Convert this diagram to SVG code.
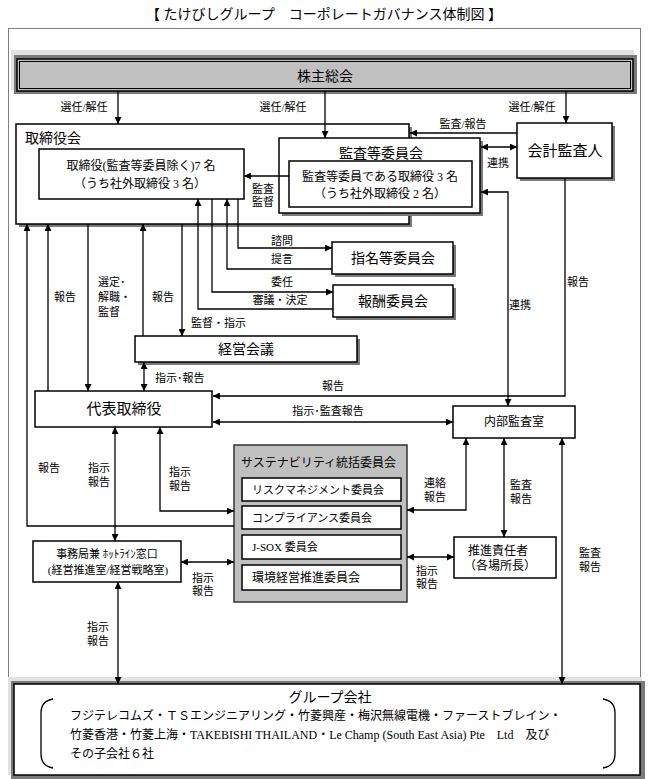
<svg xmlns="http://www.w3.org/2000/svg" width="648" height="779" viewBox="0 0 648 779">
<defs>
<marker id="a" viewBox="0 0 10 10" refX="10" refY="5" markerWidth="7" markerHeight="7" markerUnits="userSpaceOnUse" orient="auto-start-reverse"><path d="M0,0 L10,5 L0,10 z" fill="#000"/></marker>
<style>
text{font-family:"Liberation Serif","Noto Sans CJK JP",serif;fill:#000;dominant-baseline:central}
.c{text-anchor:middle}
.s{text-anchor:start}
.f11{font-size:11px}.f12{font-size:12px}.f14{font-size:14px}.f15{font-size:15px}
.box{fill:#fff;stroke:#000;stroke-width:1.5}
.sh{fill:#7a7a7a}
.ln{fill:none;stroke:#000;stroke-width:1.3}
.e{marker-end:url(#a)}
.b{marker-start:url(#a);marker-end:url(#a)}
</style>
</defs>
<rect width="648" height="779" fill="#fff"/>
<text class="c f14" x="324" y="14">【 たけびしグループ　コーポレートガバナンス体制図 】</text>
<rect x="8.5" y="28.5" width="632" height="660" fill="none" stroke="#000" stroke-width="1" stroke-dasharray="1 1"/>

<g id="kabunushi">
<rect x="11" y="50" width="623" height="40" fill="#e2e2e2"/>
<rect x="14" y="55" width="623" height="39" fill="#7a7a7a"/>
<rect x="17" y="59" width="616" height="32" fill="#c0c0c0" stroke="#000" stroke-width="1.5"/>
<rect x="19.5" y="61.5" width="611" height="27" fill="none" stroke="#000" stroke-width="1"/>
<text class="c f14" x="325" y="76">株主総会</text>
</g>

<g id="torishimariyakukai">
<rect class="sh" x="19" y="127" width="393" height="100"/>
<rect class="box" x="16" y="124" width="393" height="100"/>
<text class="s f14" x="25" y="138">取締役会</text>
</g>
<g id="torishimariyaku">
<rect class="box" x="39" y="149" width="205" height="50"/>
<text class="c f12" x="141" y="166">取締役(監査等委員除く)7 名</text>
<text class="c f12" x="140" y="184">（うち社外取締役 3 名）</text>
</g>
<g id="kansatou">
<rect class="sh" x="282" y="141" width="201" height="75"/>
<rect class="box" x="279" y="138" width="201" height="75"/>
<text class="c f14" x="381" y="153">監査等委員会</text>
<rect class="box" x="289" y="161" width="183" height="46"/>
<text class="c f12" x="380" y="177">監査等委員である取締役 3 名</text>
<text class="c f12" x="380" y="194">（うち社外取締役 2 名）</text>
</g>
<g id="kaikei">
<rect class="sh" x="520" y="126" width="95" height="55"/>
<rect class="box" x="517" y="123" width="95" height="55"/>
<text class="c f15" x="565" y="151">会計監査人</text>
</g>
<g id="shimei">
<rect class="sh" x="335" y="245" width="121" height="32"/>
<rect class="box" x="332" y="242" width="121" height="32"/>
<text class="c f14" x="393" y="258">指名等委員会</text>
</g>
<g id="houshu">
<rect class="sh" x="336" y="288" width="120" height="32"/>
<rect class="box" x="333" y="285" width="120" height="32"/>
<text class="c f14" x="393" y="301">報酬委員会</text>
</g>
<g id="keiei">
<rect class="sh" x="138" y="339" width="222" height="26"/>
<rect class="box" x="135" y="336" width="222" height="26"/>
<text class="c f14" x="246" y="349">経営会議</text>
</g>
<g id="daihyo">
<rect class="box" x="35" y="391" width="177" height="36"/>
<text class="c f15" x="124" y="409">代表取締役</text>
</g>
<g id="naibu">
<rect class="box" x="453" y="406" width="122" height="32"/>
<text class="c f12" x="514" y="422">内部監査室</text>
</g>
<g id="sustain">
<rect x="234" y="445" width="173" height="157" fill="#c0c0c0" stroke="#333" stroke-width="1.5"/>
<text class="s f12" x="241" y="463">サステナビリティ統括委員会</text>
<rect class="box" x="242" y="478" width="159" height="23"/>
<text class="s f11" x="252" y="490">リスクマネジメント委員会</text>
<rect class="box" x="242" y="506" width="159" height="23"/>
<text class="s f11" x="252" y="518">コンプライアンス委員会</text>
<rect class="box" x="242" y="535" width="159" height="24"/>
<text class="s f11" x="252" y="547">J-SOX 委員会</text>
<rect class="box" x="242" y="565" width="159" height="25"/>
<text class="s f12" x="252" y="578">環境経営推進委員会</text>
</g>
<g id="jimukyoku">
<rect class="box" x="33" y="541" width="148" height="41"/>
<text class="c f11" x="107" y="554">事務局兼 ﾎｯﾄﾗｲﾝ窓口</text>
<text class="c f11" x="108" y="570">(経営推進室/経営戦略室)</text>
</g>
<g id="suishin">
<rect class="box" x="454" y="537" width="102" height="41"/>
<text class="c f12" x="498" y="551">推進責任者</text>
<text class="c f12" x="500" y="566">（各場所長）</text>
</g>
<g id="group">
<rect x="8" y="677" width="634" height="98" fill="#e2e2e2"/>
<rect x="11" y="681" width="634" height="98" fill="#7a7a7a"/>
<rect x="14" y="684" width="626" height="91" fill="#fff" stroke="#000" stroke-width="1.5"/>
<path d="M53 699 Q41 701 41 713 L41 754 Q41 766 53 768" fill="none" stroke="#000" stroke-width="1.3"/>
<path d="M603 699 Q615 701 615 713 L615 754 Q615 766 603 768" fill="none" stroke="#000" stroke-width="1.3"/>
<text class="c f14" x="330" y="697">グループ会社</text>
<text class="s f12" x="70" y="716">フジテレコムズ・ＴＳエンジニアリング・竹菱興産・梅沢無線電機・ファーストブレイン・</text>
<text class="s f12" x="70" y="735">竹菱香港・竹菱上海・TAKEBISHI THAILAND・Le Champ (South East Asia) Pte　Ltd　及び</text>
<text class="s f12" x="70" y="754">その子会社６社</text>
</g>

<g id="connectors">
<path class="ln e" d="M118 91 V124"/>
<path class="ln e" d="M325 91 V138"/>
<path class="ln e" d="M566 91 V123"/>
<path class="ln e" d="M517 133 H410"/>
<path class="ln b" d="M481 147 H517"/>
<path class="ln e" d="M289 176 H244"/>
<path class="ln b" d="M481 192 H508 V406"/>
<path class="ln e" d="M565 178 V396 H213"/>
<path class="ln b" d="M213 422 H453"/>
<path class="ln e" d="M234 526 H27 V224"/>
<path class="ln e" d="M48 391 V224"/>
<path class="ln e" d="M88 224 V391"/>
<path class="ln e" d="M143 336 V224"/>
<path class="ln e" d="M182 224 V336"/>
<path class="ln e" d="M333 309 H198 V199"/>
<path class="ln e" d="M212 199 V292 H333"/>
<path class="ln e" d="M332 269 H227 V199"/>
<path class="ln e" d="M238 199 V248 H332"/>
<path class="ln b" d="M144 362 V391"/>
<path class="ln b" d="M115 427 V541"/>
<path class="ln b" d="M160 427 V511 H234"/>
<path class="ln b" d="M181 562 H234"/>
<path class="ln b" d="M118 582 V684"/>
<path class="ln b" d="M466 438 V510 H407"/>
<path class="ln b" d="M504 438 V537"/>
<path class="ln b" d="M562 438 V684"/>
<path class="ln b" d="M407 557 H454"/>
</g>

<g id="labels">
<text class="c f11" x="84" y="107">選任/解任</text>
<text class="c f11" x="283" y="107">選任/解任</text>
<text class="c f11" x="532" y="107">選任/解任</text>
<text class="c f11" x="463" y="124">監査/報告</text>
<text class="c f11" x="498" y="163">連携</text>
<text class="c f11" x="263" y="189">監査</text>
<text class="c f11" x="263" y="202">監督</text>
<text class="c f11" x="282" y="241">諮問</text>
<text class="c f11" x="282" y="259">提言</text>
<text class="c f11" x="282" y="282">委任</text>
<text class="c f11" x="280" y="300">審議・決定</text>
<text class="c f11" x="65" y="297">報告</text>
<text class="s f11" x="98" y="282">選定･</text>
<text class="s f11" x="98" y="297">解職・</text>
<text class="s f11" x="98" y="312">監督</text>
<text class="c f11" x="163" y="297">報告</text>
<text class="s f11" x="191" y="323">監督・指示</text>
<text class="c f11" x="520" y="305">連携</text>
<text class="c f11" x="578" y="282">報告</text>
<text class="s f11" x="155" y="378">指示･報告</text>
<text class="c f11" x="333" y="386">報告</text>
<text class="c f11" x="328" y="411">指示･監査報告</text>
<text class="c f11" x="49" y="468">報告</text>
<text class="c f11" x="99" y="468">指示</text>
<text class="c f11" x="99" y="482">報告</text>
<text class="c f11" x="180" y="472">指示</text>
<text class="c f11" x="180" y="486">報告</text>
<text class="c f11" x="435" y="483">連絡</text>
<text class="c f11" x="435" y="497">報告</text>
<text class="c f11" x="521" y="485">監査</text>
<text class="c f11" x="521" y="499">報告</text>
<text class="c f11" x="590" y="553">監査</text>
<text class="c f11" x="590" y="567">報告</text>
<text class="c f11" x="203" y="578">指示</text>
<text class="c f11" x="203" y="591">報告</text>
<text class="c f11" x="427" y="571">指示</text>
<text class="c f11" x="427" y="584">報告</text>
<text class="c f11" x="98" y="627">指示</text>
<text class="c f11" x="98" y="641">報告</text>
</g>
</svg>
